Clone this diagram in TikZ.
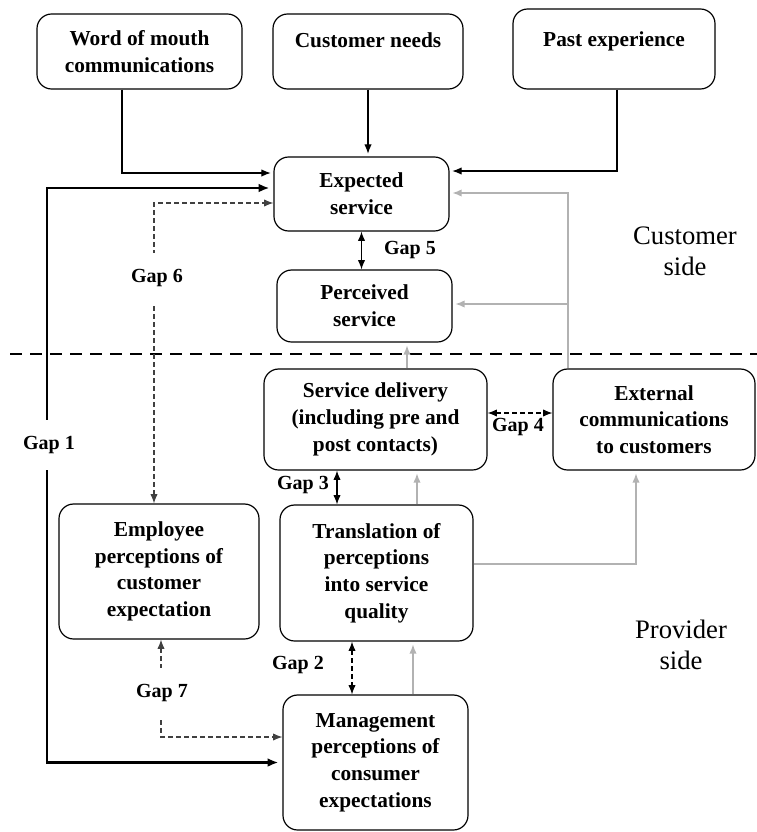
\documentclass[tikz,border=0pt]{standalone}
\usepackage{fontspec}
\setmainfont{Liberation Serif}
\usepackage{tikz}
\usetikzlibrary{positioning,calc,arrows.meta}

\begin{document}
\begin{tikzpicture}[x=0.75pt,y=-0.75pt,
    box/.style={draw,line width=0.9pt,rounded corners=11pt,align=center,inner sep=2pt,font=\bfseries\fontsize{16}{20}\selectfont},
    arr/.style={-{Latex[length=7pt,width=5.5pt]},line width=0.8pt,shorten >=2pt},
    dblarr/.style={{Latex[length=7pt,width=5.5pt]}-{Latex[length=7pt,width=5.5pt]},line width=0.8pt},
    gapdash/.style={dblarr,dash pattern=on 3.5pt off 2.5pt},
    grayarr/.style={-{Latex[length=7pt,width=5.5pt]},line width=1.1pt,black!30,shorten >=2pt},
    thickarr/.style={{Latex[length=8pt,width=6.5pt]}-{Latex[length=8pt,width=6.5pt]},line width=2pt,shorten <=3pt,shorten >=3pt},
    gaplabel/.style={font=\bfseries\fontsize{15}{18}\selectfont,inner sep=2pt},
    cutlabel/.style={gaplabel,fill=white,inner ysep=12pt},
    side/.style={align=center,font=\fontsize{20}{23}\selectfont}]
    \useasboundingbox (0,0) rectangle (757,832);

    % Customer / provider split
    \draw[line width=2.2pt,dash pattern=on 9pt off 6pt] (10,354) -- (757,354);

    % Boxes
    \node[box,minimum width=153.75pt,minimum height=56.25pt] (wom) at (139.5,51.5) {Word of mouth\\communications};
    \node[box,minimum width=142.5pt,minimum height=56.25pt,text depth=17pt] (needs) at (368,51.5) {Customer needs};
    \node[box,minimum width=151.5pt,minimum height=60pt,text depth=15pt] (past) at (614,49) {Past experience};
    \node[box,minimum width=131.25pt,minimum height=55.5pt] (exp) at (361.5,194) {Expected\\service};
    \node[box,minimum width=131.25pt,minimum height=54pt] (perc) at (364.5,306) {Perceived\\service};
    \node[box,minimum width=167.25pt,minimum height=75.75pt] (deliv) at (375.5,419.5) {Service delivery\\(including pre and\\post contacts)};
    \node[box,minimum width=151.5pt,minimum height=75.75pt] (ext) at (654,419.5) {External\\communications\\to customers};
    \node[box,minimum width=150pt,minimum height=101.25pt] (emp) at (159,571.5) {Employee\\perceptions of\\customer\\expectation};
    \node[box,minimum width=144.75pt,minimum height=102pt] (trans) at (376.5,573) {Translation of\\perceptions\\into service\\quality};
    \node[box,minimum width=138.75pt,minimum height=101.25pt] (mgmt) at (375.5,762.5) {Management\\perceptions of\\consumer\\expectations};

    % What forms the expectation
    \draw[arr] ($(wom.south)+(-17.5,0)$) |- ($(exp.west)+(0,-21)$);
    \draw[arr] (needs.south) -- (needs.south |- exp.north);
    \draw[arr] ($(past.south)+(3,0)$) |- ($(exp.east)+(0,-23)$);

    % Grey flows
    \draw[grayarr] ($(ext.north)+(-86,0)$) |- ($(exp.east)+(0,-1)$);
    \draw[grayarr] ($(ext.north)+(-86,0)$) |- ($(perc.east)+(0,-2)$);
    \draw[grayarr] ($(deliv.north)+(31.5,0)$) coordinate (d1) -- (d1 |- perc.south);
    \draw[grayarr] ($(trans.north)+(40.5,0)$) coordinate (t1) -- (t1 |- deliv.south);
    \draw[grayarr] ($(trans.east)+(0,-9)$) -| ($(ext.south)+(-18,0)$);
    \draw[grayarr] ($(mgmt.north)+(37.5,0)$) coordinate (m1) -- (m1 |- trans.south);

    % Gaps
    \coordinate (g1) at (47,445);
    \draw[thickarr] ($(exp.west)+(0,-6)$) -| (g1) |- (mgmt.west);
    \node[cutlabel] (gap1) at (49,445) {Gap 1};

    \draw[gapdash] ($(trans.south)+(-24.5,0)$) coordinate (t2) -- (t2 |- mgmt.north);
    \node[gaplabel] (gap2) at (298,665) {Gap 2};

    \draw[dblarr] ($(deliv.south)+(-38.5,0)$) coordinate (d2) -- (d2 |- trans.north);
    \node[gaplabel] (gap3) at (303,485) {Gap 3};

    \draw[gapdash] ($(deliv.east)+(0,-6.5)$) coordinate (d3) -- (d3 -| ext.west);
    \node[gaplabel] (gap4) at (518,427) {Gap 4};

    \draw[dblarr] (exp.south) -- (exp.south |- perc.north);
    \node[gaplabel] (gap5) at (410,250) {Gap 5};

    \draw[gapdash,black!75] ($(emp.north)+(-5,0)$) |- ($(exp.west)+(0,9)$);
    \node[cutlabel] (gap6) at (157,278) {Gap 6};

    \draw[gapdash,black!75] ($(emp.south)+(2,0)$) |- ($(mgmt.west)+(0,-25.5)$);
    \node[cutlabel] (gap7) at (162,693) {Gap 7};

    % Sides
    \node[side] (cside) at (685,251) {Customer\\side};
    \node[side] (pside) at (681,645) {Provider\\side};
\end{tikzpicture}
\end{document}
